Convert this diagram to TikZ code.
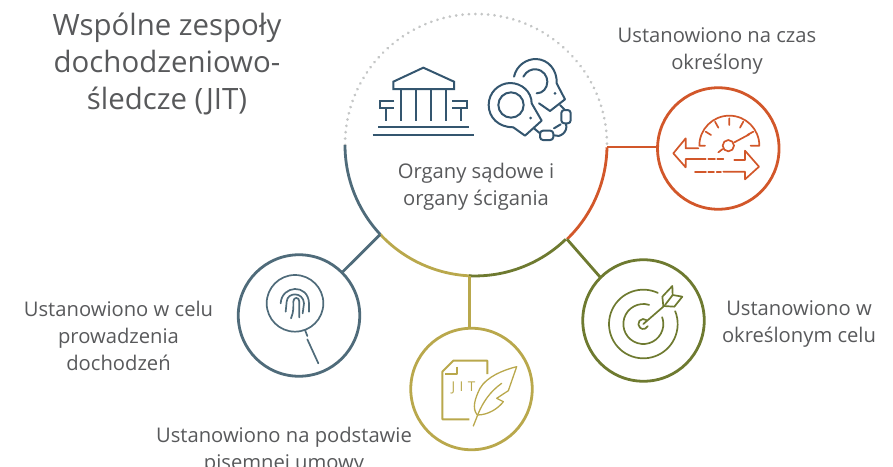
\documentclass[tikz,border=0pt]{standalone}
\usepackage{fontspec}
\setmainfont{Open Sans}
\definecolor{slateC}{HTML}{4F6B7A}
\definecolor{navyC}{HTML}{34566F}
\definecolor{rustC}{HTML}{D2572A}
\definecolor{oliveC}{HTML}{6E7A30}
\definecolor{goldC}{HTML}{B9A84C}
\definecolor{textC}{HTML}{58595B}
\definecolor{dotC}{HTML}{C4C6C6}
\tikzset{
  sat/.style={circle,draw=#1,line width=2.8pt,minimum size=121.5pt,inner sep=0pt,outer sep=0pt},
  link/.style={draw=#1,line width=2.8pt},
  rim/.style={draw=#1,line width=2.8pt},
  ico/.style={draw=#1,line width=1.7pt,line cap=round,line join=round},
  zoomed/.style={shift={#1},scale=0.33333},
  lab/.style={text=textC,font=\fontsize{20.2}{26.7}\selectfont,align=center,inner sep=0pt},
  ttl/.style={text=textC,font=\fontsize{29.4}{37.2}\selectfont,align=center,inner sep=0pt},
  hub/.style={circle,minimum size=262pt,inner sep=0pt,outer sep=0pt}
}
\begin{document}
\begin{tikzpicture}[x=1pt,y=-1pt]
\useasboundingbox (0,0) rectangle (893,466);
\node[hub] (main) at (476,145) {};
\node[sat=rustC] (s1) at (718.3,148.5) {};
\node[sat=oliveC] (s2) at (643.5,320.5) {};
\node[sat=goldC] (s3) at (471.5,389) {};
\node[sat=slateC] (s4) at (299,315.5) {};
\coordinate (j1) at (607,147);
% rim
\draw[dotC,line width=3pt,dash pattern=on 0.01pt off 6.4pt,line cap=round] (main.180) arc[start angle=180,end angle=360,radius=131];
\draw[rim=slateC] (main.180) arc[start angle=180,end angle=137,radius=131];
\draw[rim=goldC] (main.223) arc[start angle=137,end angle=92.5,radius=131];
\draw[rim=oliveC] (main.267.5) arc[start angle=92.5,end angle=46,radius=131];
\draw[rim=rustC] (main.314) arc[start angle=46,end angle=1,radius=131];
% connectors
\draw[link=rustC] (j1) -- (j1 -| s1.west);
\draw[link=oliveC] (main.314) -- (s2.135);
\draw[link=goldC] (main.267.5) -- (main.267.5 |- s3.north);
\draw[link=slateC] (main.223) -- (s4.45);
% courthouse
\begin{scope}[zoomed={(350,40)},ico=navyC,line width=2pt,line cap=butt,line join=miter]
\draw (130,125) -- (220,83) -- (312,125) -- (312,147) -- (130,147) -- cycle;
\foreach \cx in {153,198,243,288} \draw (\cx,147) -- (\cx,242);
\draw (133,182) -- (90,182) -- (90,205) -- (133,205) (108,205) -- (108,242);
\draw (307,182) -- (352,182) -- (352,205) -- (307,205) (333,205) -- (333,242);
\draw (85,260) -- (357,260) (68,285) -- (373,285);
\end{scope}
% handcuffs
\begin{scope}[zoomed={(350,40)},ico=navyC,line width=2pt]
\draw (492,110) .. controls (500,75) and (530,57) .. (558,57) .. controls (595,58) and (622,90) .. (620,130) -- (645,178) -- (600,213) -- (567,190);
\draw (520,110) .. controls (530,92) and (545,87) .. (558,88) .. controls (580,90) and (592,108) .. (592,125) .. controls (592,145) and (578,160) .. (560,160);
\fill[navyC] (615,160) circle[radius=4.5];
\draw (483,195) circle[radius=38];
\draw (575,242) -- (525,287) -- (490,262) .. controls (445,262) and (416,232) .. (416,195) .. controls (416,158) and (445,130) .. (480,129) .. controls (515,129) and (545,155) .. (545,190) -- cycle;
\fill[navyC] (542,234) circle[radius=4.5];
\draw[rounded corners=3pt] (634,210) rectangle (662,250);
\draw[rounded corners=3pt] (570,272) rectangle (610,300);
\draw (612,265) -- (632,253) (648,252) .. controls (655,275) and (630,295) .. (612,286);
\draw (630,195) -- (645,210) (552,265) -- (570,280);
\end{scope}
% gauge
\begin{scope}[zoomed={(640,80)},ico=rustC]
\draw (195,197) -- (178,197) arc[start angle=180,end angle=360,radius=90] -- (332,197);
\draw (268,115) -- (268,135) (225,125) -- (235,143) (310,125) -- (300,143) (197,155) -- (213,165) (340,155) -- (322,165);
\draw (265,197) circle[radius=17];
\draw (283,187) -- (328,163) (248,207) -- (235,217);
\draw (175,205) -- (137,205) -- (137,175) -- (100,220) -- (137,262) -- (137,237) -- (197,237);
\draw (205,237) -- (225,237) (232,237) -- (250,237);
\draw (165,275) -- (198,275) (205,275) -- (222,275) (230,275) -- (243,275);
\draw (250,275) -- (315,275) -- (315,298) -- (357,260) -- (315,212) -- (315,240) -- (283,240);
\end{scope}
% target
\begin{scope}[zoomed={(575,250)},ico=oliveC]
\draw (205,222) ++(-65:103) arc[start angle=-65,end angle=-382,radius=103];
\draw (205,222) ++(-73:60) arc[start angle=-73,end angle=-380,radius=60];
\draw (205,222) ++(-50:15) arc[start angle=-50,end angle=-335,radius=15];
\draw (205,222) -- (265,170);
\draw (265,168) -- (262,140) -- (292,108) -- (293,135) -- (322,140) -- (298,170) -- (265,168);
\draw (270,165) -- (293,135);
\end{scope}
% fingerprint
\begin{scope}[zoomed={(230,230)},ico=slateC]
\draw (195,220) circle[radius=85];
\draw (225,300) -- (232,318) (232,328) -- (265,400);
\draw (152,220) .. controls (155,165) and (235,160) .. (237,220) -- (237,245);
\draw (167,245) -- (170,215) .. controls (172,185) and (220,185) .. (222,220) -- (218,250);
\draw (183,265) .. controls (192,245) and (190,225) .. (190,215) .. controls (190,200) and (208,200) .. (208,215) -- (208,262);
\end{scope}
% document and quill
\begin{scope}[zoomed={(400,320)},ico=goldC]
\draw[line cap=butt,line width=2pt] (262,162) -- (262,122) -- (160,122) -- (127,155) -- (127,298) -- (208,298);
\draw[line cap=butt,line width=2pt] (170,140) -- (170,162) -- (135,162);
\draw[line width=1.3pt] (350,140) .. controls (310,150) and (260,170) .. (240,205) .. controls (225,235) and (215,265) .. (232,285) .. controls (265,285) and (295,265) .. (310,245) -- (290,235) -- (325,212) -- cycle;
\draw[line width=1.3pt] (220,318) -- (235,280) .. controls (250,245) and (270,215) .. (305,190);
\end{scope}
\node[text=goldC,font=\fontsize{13.5}{14}\selectfont,inner sep=0pt] (jit) at (463.5,388) {J\,\,I\,\,T};
% texts
\node[ttl] (title) at (167,64) {Wspólne zespoły\\dochodzeniowo-\\śledcze (JIT)};
\node[lab] (t0) at (476,186.5) {Organy sądowe i\\organy ścigania};
\node[lab] (t1) at (717,51) {Ustanowiono na czas\\określony};
\node[lab] (t2) at (799,324) {Ustanowiono w\\określonym celu};
\node[lab] (t3) at (284,450.5) {Ustanowiono na podstawie\\pisemnej umowy};
\node[lab] (t4) at (118.5,336) {Ustanowiono w celu\\prowadzenia\\dochodzeń};
\end{tikzpicture}
\end{document}
